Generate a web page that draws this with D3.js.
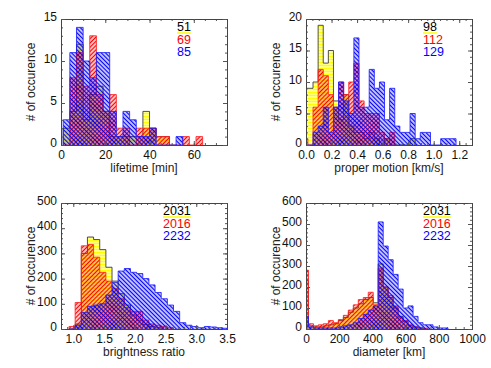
<!DOCTYPE html>
<html>
<head>
<meta charset="utf-8">
<script src="https://cdn.jsdelivr.net/npm/d3@7"></script>
<style>
  body { margin: 0; background: #fff; }
  text { font-family: "Liberation Sans", Arial, Helvetica, sans-serif; }
</style>
</head>
<body>
<div id="chart"></div>
<script>
// ---- data (counts per bin) ----

// lifetime [min], 3 min bins starting at 1 min
var lifetimeStart = 1, lifetimeStep = 3;
var lifetimeYellow = [2, 4, 12, 3, 6, 7, 4, 1, 1, 1, 1, 1, 4, 2, 1, 1];
var lifetimeRed    = [0, 8, 11, 7, 13, 6, 4, 6, 2, 2, 0, 2, 2, 2, 1, 1, 0, 0, 1, 0, 1];
var lifetimeBlue   = [3, 11, 14, 10, 8, 11, 11, 4, 1, 4, 3, 1, 1, 2, 0, 0, 0, 1];
var lifetimeN      = ["51", "69", "85"];

// proper motion [km/s], 0.04 bins
var motionStart = -0.025, motionStep = 0.04;
var motionYellow = [9, 9, 10, 19, 13, 15, 7, 4, 8, 3, 2, 2, 1, 2, 1, 0, 1, 0, 0, 0, 0, 1];
var motionRed    = [1, 0, 6, 12, 11, 8, 6, 10, 8, 10, 13, 7, 5, 5, 5, 2, 1, 2];
var motionBlue   = [0, 0, 2, 3, 6, 2, 6, 10, 7, 5, 17, 6, 6, 12, 9, 10, 4, 9, 3, 2, 2, 5, 1, 2, 2, 0, 0, 1, 1, 1];
var motionN      = ["98", "112", "129"];

// brightness ratio, 0.1 bins
var ratioStart = 0.93, ratioStep = 0.1;
var ratioYellow = [0, 20, 300, 365, 355, 315, 245, 190, 140, 95, 55, 35, 18, 10, 5];
var ratioRed    = [10, 105, 330, 335, 285, 225, 190, 160, 120, 85, 70, 70, 35, 20, 15, 10, 5];
var ratioBlue   = [0, 15, 65, 90, 95, 100, 135, 185, 230, 240, 225, 220, 200, 175, 145, 120, 95, 70, 25, 15, 10, 5, 10, 8, 5, 3];
var ratioN      = ["2031", "2016", "2232"];

// diameter [km], 30 km bins
var diamStart = -15, diamStep = 30;
var diamYellow = [230, 15, 10, 10, 15, 20, 25, 40, 55, 80, 100, 120, 140, 150, 125, 310, 200, 150, 100, 60, 35, 15, 10, 5];
var diamRed    = [280, 25, 15, 20, 25, 40, 30, 45, 65, 90, 115, 140, 150, 175, 115, 290, 200, 160, 110, 55, 40, 20, 10, 5, 3];
var diamBlue   = [60, 10, 5, 5, 5, 5, 5, 10, 15, 20, 30, 50, 70, 90, 110, 510, 395, 330, 260, 190, 100, 110, 60, 30, 20, 20, 10, 5, 5];
var diamN      = ["2031", "2016", "2232"];

// axis ticks
var lifetimeTicks = [0, 20, 40, 60];
var motionTicks = [0, 0.2, 0.4, 0.6, 0.8, 1.0, 1.2];
var ratioTicks = [1.0, 1.5, 2.0, 2.5, 3.0, 3.5];
var diamTicks = [0, 200, 400, 600, 800, 1000];
var count15Ticks = [0, 5, 10, 15];
var count20Ticks = [0, 5, 10, 15, 20];
var count500Ticks = [0, 100, 200, 300, 400, 500];
var count600Ticks = [0, 100, 200, 300, 400, 500, 600];

// ---- layout ----
var W = 491, H = 368;
var svg = d3.select("#chart").append("svg")
    .attr("width", W)
    .attr("height", H);

var defs = svg.append("defs");

// hatch patterns: yellow horizontal, red "/", blue "\"
function hatch(id, color, angle, gap, lw) {
  var p = defs.append("pattern")
      .attr("id", id)
      .attr("patternUnits", "userSpaceOnUse")
      .attr("width", gap)
      .attr("height", gap)
      .attr("patternTransform", "rotate(" + angle + ")");
  p.append("line")
      .attr("x1", -1).attr("x2", gap + 1)
      .attr("y1", gap / 2).attr("y2", gap / 2)
      .attr("stroke", color)
      .attr("stroke-width", lw);
}
hatch("hy", "#ffff00", 0, 3, 2);
hatch("hr", "#ff0000", -45, 3, 1.5);
hatch("hb", "#0000ff", 45, 3, 1.5);

var series = [
  {fill: "url(#hy)", stroke: "#333333", label: "#000000"},
  {fill: "url(#hr)", stroke: "#ff2020", label: "#ff0000"},
  {fill: "url(#hb)", stroke: "#2020ff", label: "#0000ff"}
];

var panels = [
  {left: 61, top: 19, width: 166, height: 126,
   xDomain: [0, 75], yDomain: [0, 15],
   xTicks: lifetimeTicks, xMinor: 5, xFmt: d3.format("d"),
   yTicks: count15Ticks, yMinor: 1,
   start: lifetimeStart, step: lifetimeStep,
   data: [lifetimeYellow, lifetimeRed, lifetimeBlue], n: lifetimeN,
   title: "lifetime [min]", legendX: 177, legendY: 31},
  {left: 306, top: 19, width: 166, height: 126,
   xDomain: [0, 1.3], yDomain: [0, 20],
   xTicks: motionTicks, xMinor: 0.05, xFmt: d3.format(".1f"),
   yTicks: count20Ticks, yMinor: 1,
   start: motionStart, step: motionStep,
   data: [motionYellow, motionRed, motionBlue], n: motionN,
   title: "proper motion [km/s]", legendX: 423, legendY: 31},
  {left: 61, top: 203, width: 166, height: 126,
   xDomain: [0.8, 3.5], yDomain: [0, 500],
   xTicks: ratioTicks, xMinor: 0.1, xFmt: d3.format(".1f"),
   yTicks: count500Ticks, yMinor: 20,
   start: ratioStart, step: ratioStep,
   data: [ratioYellow, ratioRed, ratioBlue], n: ratioN,
   title: "brightness ratio", legendX: 163, legendY: 215},
  {left: 306, top: 203, width: 166, height: 126,
   xDomain: [0, 1000], yDomain: [0, 600],
   xTicks: diamTicks, xMinor: 50, xFmt: d3.format("d"),
   yTicks: count600Ticks, yMinor: 20,
   start: diamStart, step: diamStep,
   data: [diamYellow, diamRed, diamBlue], n: diamN,
   title: "diameter [km]", legendX: 423, legendY: 215}
];

function minorValues(domain, every) {
  var out = [];
  var first = Math.ceil(domain[0] / every - 1e-9);
  for (var k = first; k * every <= domain[1] + 1e-9; k++) out.push(k * every);
  return out;
}

panels.forEach(function(p, pi) {
  var x = d3.scaleLinear().domain(p.xDomain).range([0, p.width]);
  var y = d3.scaleLinear().domain(p.yDomain).range([p.height, 0]);

  var g = svg.append("g")
      .attr("transform", "translate(" + p.left + "," + p.top + ")");

  defs.append("clipPath").attr("id", "clip" + pi)
    .append("rect").attr("width", p.width).attr("height", p.height);

  var bars = g.append("g").attr("clip-path", "url(#clip" + pi + ")");

  // histogram step outlines, filled with hatching
  p.data.forEach(function(counts, si) {
    var pts = [[x(p.start), y(0)]];
    counts.forEach(function(c, i) {
      pts.push([x(p.start + i * p.step), y(c)]);
      pts.push([x(p.start + (i + 1) * p.step), y(c)]);
    });
    pts.push([x(p.start + counts.length * p.step), y(0)]);
    bars.append("path")
        .attr("d", d3.line()(pts))
        .attr("fill", series[si].fill)
        .attr("stroke", series[si].stroke)
        .attr("stroke-width", 1)
        .attr("stroke-opacity", 0.85);
  });

  // frame with inward ticks on all four sides
  var xMin = minorValues(p.xDomain, p.xMinor);
  var yMin = minorValues(p.yDomain, p.yMinor);

  g.append("g").attr("transform", "translate(0," + p.height + ")")
      .call(d3.axisBottom(x).tickValues(xMin).tickSize(-2).tickFormat(""));
  g.append("g")
      .call(d3.axisTop(x).tickValues(xMin).tickSize(-2).tickFormat(""));
  g.append("g")
      .call(d3.axisLeft(y).tickValues(yMin).tickSize(-2).tickFormat(""));
  g.append("g").attr("transform", "translate(" + p.width + ",0)")
      .call(d3.axisRight(y).tickValues(yMin).tickSize(-2).tickFormat(""));

  g.append("g").attr("transform", "translate(0," + p.height + ")")
      .call(d3.axisBottom(x).tickValues(p.xTicks).tickSize(-4).tickPadding(5).tickFormat(p.xFmt));
  g.append("g")
      .call(d3.axisTop(x).tickValues(p.xTicks).tickSize(-4).tickFormat(""));
  g.append("g").attr("class", "yaxis")
      .call(d3.axisLeft(y).tickValues(p.yTicks).tickSize(-4).tickPadding(4));
  g.append("g").attr("transform", "translate(" + p.width + ",0)")
      .call(d3.axisRight(y).tickValues(p.yTicks).tickSize(-4).tickFormat(""));

  g.selectAll(".domain").attr("stroke", "#444");
  g.selectAll(".tick line").attr("stroke", "#555");
  g.selectAll(".tick text")
      .attr("fill", "#111")
      .style("font-size", "12px")
      .style("font-family", "'Liberation Sans', Arial, sans-serif");
  // y labels sit a little above their ticks, as in the original
  g.selectAll(".yaxis .tick text").attr("dy", "0.12em");

  // axis titles
  g.append("text")
      .attr("x", p.width / 2)
      .attr("y", p.height + 27)
      .attr("text-anchor", "middle")
      .attr("font-size", "12px")
      .attr("fill", "#222")
      .text(p.title);
  g.append("text")
      .attr("transform", "translate(" + (-26) + "," + (p.height / 2) + ") rotate(-90)")
      .attr("text-anchor", "middle")
      .attr("font-size", "12px")
      .attr("fill", "#222")
      .text("# of occurence");

  // legend: sample sizes
  p.n.forEach(function(t, si) {
    var tx = svg.append("text")
        .attr("x", p.legendX)
        .attr("y", p.legendY + si * 12.5)
        .attr("font-size", "12.5px")
        .attr("fill", series[si].label)
        .text(t);
    if (si === 0) {
      var w = tx.node().getComputedTextLength();
      svg.append("line")
          .attr("x1", p.legendX).attr("x2", p.legendX + w)
          .attr("y1", p.legendY + 2).attr("y2", p.legendY + 2)
          .attr("stroke", "#ffff00")
          .attr("stroke-width", 1.5);
    }
  });
});
</script>
</body>
</html>
